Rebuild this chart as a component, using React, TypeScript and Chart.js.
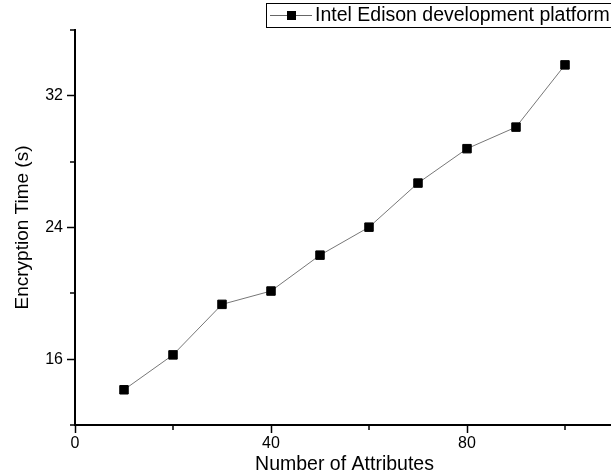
import { useEffect, useRef } from 'react';
import { Chart, registerables } from 'chart.js';

Chart.register(...registerables);

const attributes = [10, 20, 30, 40, 50, 60, 70, 80, 90, 100];
const encryptionTime = [14.14, 16.26, 19.33, 20.14, 22.32, 24.02, 26.7, 28.79, 30.1, 33.88];
const xMajorTicks = [0, 40, 80];
const xMinorTicks = [20, 60, 100];
const yMajorTicks = [16, 24, 32];
const yMinorTicks = [12, 20, 28, 36];
const seriesLabel = 'Intel Edison development platform';
const xTitle = 'Number of Attributes';
const yTitle = 'Encryption Time (s)';

const FONT = "'Liberation Sans', Arial, sans-serif";

const minorTicksPlugin = {
  id: 'minorTicks',
  afterDraw(chart: any) {
    const ctx = chart.ctx;
    const { left, bottom } = chart.chartArea;
    const xs = chart.scales.x;
    const ys = chart.scales.y;
    ctx.save();
    ctx.strokeStyle = '#000';
    ctx.lineWidth = 1.5;
    xMinorTicks.forEach((v) => {
      const px = Math.round(xs.getPixelForValue(v));
      ctx.beginPath();
      ctx.moveTo(px, bottom);
      ctx.lineTo(px, bottom + 5);
      ctx.stroke();
    });
    yMinorTicks.forEach((v) => {
      const py = Math.round(ys.getPixelForValue(v));
      ctx.beginPath();
      ctx.moveTo(left - 5, py);
      ctx.lineTo(left, py);
      ctx.stroke();
    });
    ctx.restore();
  },
};

const legendBoxPlugin = {
  id: 'legendBox',
  afterDraw(chart: any) {
    const ctx = chart.ctx;
    ctx.save();
    ctx.strokeStyle = '#000';
    ctx.lineWidth = 1;
    ctx.strokeRect(266.5, 3.5, 400, 24);
    ctx.strokeStyle = '#666';
    ctx.beginPath();
    ctx.moveTo(270, 15.5);
    ctx.lineTo(312, 15.5);
    ctx.stroke();
    ctx.fillStyle = '#000';
    ctx.fillRect(287, 11, 9, 9);
    ctx.font = `19.5px ${FONT}`;
    ctx.textBaseline = 'middle';
    ctx.textAlign = 'left';
    ctx.fillText(seriesLabel, 315, 16);
    ctx.restore();
  },
};

export default function App() {
  const canvasRef = useRef<HTMLCanvasElement | null>(null);

  useEffect(() => {
    if (!canvasRef.current) return;
    const chart = new Chart(canvasRef.current, {
      type: 'line',
      data: {
        datasets: [
          {
            label: seriesLabel,
            data: attributes.map((a, i) => ({ x: a, y: encryptionTime[i] })),
            borderColor: '#777',
            borderWidth: 1,
            pointStyle: 'rect',
            pointRadius: 6,
            pointBackgroundColor: '#000',
            pointBorderColor: '#000',
            pointBorderWidth: 1,
            tension: 0,
          },
        ],
      },
      options: {
        responsive: false,
        animation: false,
        layout: { autoPadding: false, padding: { top: 30, left: 0, right: 0, bottom: 0 } },
        plugins: {
          legend: { display: false },
          tooltip: { enabled: false },
        },
        scales: {
          x: {
            type: 'linear',
            min: 0,
            max: 110,
            afterBuildTicks: (s: any) => {
              s.ticks = xMajorTicks.map((v) => ({ value: v }));
            },
            afterFit: (s: any) => {
              s.height = 51;
              s.paddingRight = 0;
              s.paddingLeft = 0;
            },
            border: { display: true, color: '#000', width: 2 },
            grid: {
              display: true,
              drawOnChartArea: false,
              drawTicks: true,
              tickLength: 8,
              tickColor: '#000',
              tickWidth: 1.5,
            },
            ticks: {
              color: '#000',
              padding: 1,
              maxRotation: 0,
              font: { family: FONT, size: 16 },
            },
            title: {
              display: true,
              text: xTitle,
              color: '#000',
              font: { family: FONT, size: 19.5 },
              padding: { top: 0, bottom: 0 },
            },
          },
          y: {
            type: 'linear',
            min: 12,
            max: 36,
            afterBuildTicks: (s: any) => {
              s.ticks = yMajorTicks.map((v) => ({ value: v }));
            },
            afterFit: (s: any) => {
              s.width = 75;
            },
            border: { display: true, color: '#000', width: 2 },
            grid: {
              display: true,
              drawOnChartArea: false,
              drawTicks: true,
              tickLength: 8,
              tickColor: '#000',
              tickWidth: 1.5,
            },
            ticks: {
              color: '#000',
              padding: 4,
              font: { family: FONT, size: 16 },
            },
            title: {
              display: true,
              text: yTitle,
              color: '#000',
              font: { family: FONT, size: 19 },
              padding: { top: 11, bottom: 0 },
            },
          },
        },
      },
      plugins: [minorTicksPlugin, legendBoxPlugin],
    });
    return () => chart.destroy();
  }, []);

  return (
    <div
      style={{
        position: 'fixed',
        left: 0,
        top: 0,
        width: 611,
        height: 476,
        overflow: 'hidden',
        background: '#fff',
      }}
    >
      <canvas ref={canvasRef} width={614} height={476} style={{ display: 'block' }} />
    </div>
  );
}
